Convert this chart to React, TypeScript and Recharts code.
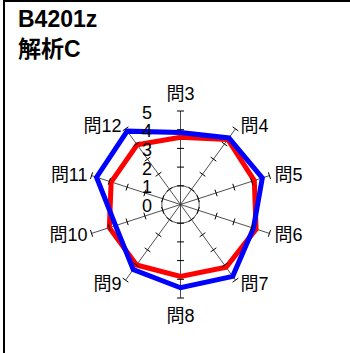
import React from "react";
import {
  RadarChart,
  Radar,
  PolarGrid,
  PolarAngleAxis,
  PolarRadiusAxis,
} from "recharts";

const questions = ["問3", "問4", "問5", "問6", "問7", "問8", "問9", "問10", "問11", "問12"];
const blueValues = [3.85, 4.4, 4.6, 4.1, 4.75, 4.45, 4.3, 3.65, 4.72, 4.85];
const redValues = [3.6, 4.3, 4.15, 4.25, 4.15, 3.85, 4.0, 4.0, 3.9, 3.95];
const radiusTicks = [0, 1, 2, 3, 4, 5];

const CX = 180.5;
const CY = 204.5;
const R = 93.5;
const RAD = Math.PI / 180;

const data = questions.map((q, i) => ({ q, red: redValues[i], blue: blueValues[i] }));

// spoke angles, clockwise from the top, as Recharts lays them out
const spokeAngles = questions.map((_, i) => 90 - (360 / questions.length) * i);

const labelFont = "'Liberation Sans', 'Noto Sans CJK JP', sans-serif";

const AngleTick = ({ payload }: any) => {
  const a = payload.coordinate;
  const c = Math.cos(a * RAD);
  const s = Math.sin(a * RAD);
  const ex = CX + c * R;
  const ey = CY - s * R;
  let x = ex;
  let y = ey - 4 * s + 0.5;
  let anchor: "start" | "middle" | "end" = "middle";
  if (Math.abs(c) < 0.1) {
    y = CY - s * (R + 17.5);
  } else if (c > 0) {
    anchor = "start";
    x = ex + 5;
  } else {
    anchor = "end";
    x = ex - 4;
  }
  return (
    <text
      x={x}
      y={y}
      textAnchor={anchor}
      dominantBaseline="central"
      fontSize={18}
      fontFamily={labelFont}
      fill="#000"
    >
      {payload.value}
    </text>
  );
};

// number on the vertical axis + a small cross mark on every spoke
const RadiusTick = ({ x, y, payload }: any) => {
  const r = Math.hypot(x - CX, y - CY);
  const half = 3.5;
  return (
    <g>
      <text
        x={x - 33.5}
        y={y + 1.5}
        textAnchor="middle"
        dominantBaseline="central"
        fontSize={18}
        fontFamily={labelFont}
        fill="#000"
      >
        {payload.value}
      </text>
      {payload.value > 0 &&
        spokeAngles.map((a, i) => {
          const c = Math.cos(a * RAD);
          const s = Math.sin(a * RAD);
          const px = CX + c * r;
          const py = CY - s * r;
          return (
            <line
              key={i}
              x1={px - s * half}
              y1={py - c * half}
              x2={px + s * half}
              y2={py + c * half}
              stroke="#000"
              strokeWidth={1}
            />
          );
        })}
    </g>
  );
};

export default function App() {
  return (
    <div
      style={{
        position: "absolute",
        left: 0,
        top: 0,
        width: 350,
        height: 353,
        background: "#fff",
        overflow: "hidden",
      }}
    >
      <div
        style={{
          position: "absolute",
          left: 3,
          top: 0,
          width: 347,
          height: 353,
          borderTop: "2px solid #000",
          borderLeft: "2px solid #000",
          boxSizing: "border-box",
        }}
      />
      <div
        style={{
          position: "absolute",
          left: 18,
          top: 4,
          fontFamily: "'Liberation Sans', 'Noto Sans CJK JP', sans-serif",
          fontWeight: "bold",
          fontSize: 23,
          lineHeight: "30px",
          color: "#000",
        }}
      >
        <div>B4201z</div>
        <div>解析C</div>
      </div>
      <div style={{ position: "absolute", left: 0, top: 0 }}>
        <RadarChart
          width={350}
          height={353}
          data={data}
          cx={CX}
          cy={CY}
          outerRadius={R}
          margin={{ top: 0, right: 0, bottom: 0, left: 0 }}
        >
          <PolarGrid
            gridType="circle"
            polarRadius={[R / 5]}
            radialLines
            stroke="#222"
            strokeWidth={0.8}
          />
          <PolarAngleAxis
            dataKey="q"
            tick={(props: any) => <AngleTick {...props} />}
            tickLine={false}
            axisLine={false}
          />
          <PolarRadiusAxis
            angle={90}
            domain={[0, 5]}
            ticks={radiusTicks as any}
            tickCount={6}
            axisLine={false}
            tick={(props: any) => <RadiusTick {...props} />}
          />
          <Radar
            dataKey="red"
            stroke="#ff0000"
            strokeWidth={5}
            fill="none"
            fillOpacity={0}
            dot={false}
            isAnimationActive={false}
          />
          <Radar
            dataKey="blue"
            stroke="#0000ff"
            strokeWidth={5}
            fill="none"
            fillOpacity={0}
            dot={false}
            isAnimationActive={false}
          />
        </RadarChart>
      </div>
    </div>
  );
}
